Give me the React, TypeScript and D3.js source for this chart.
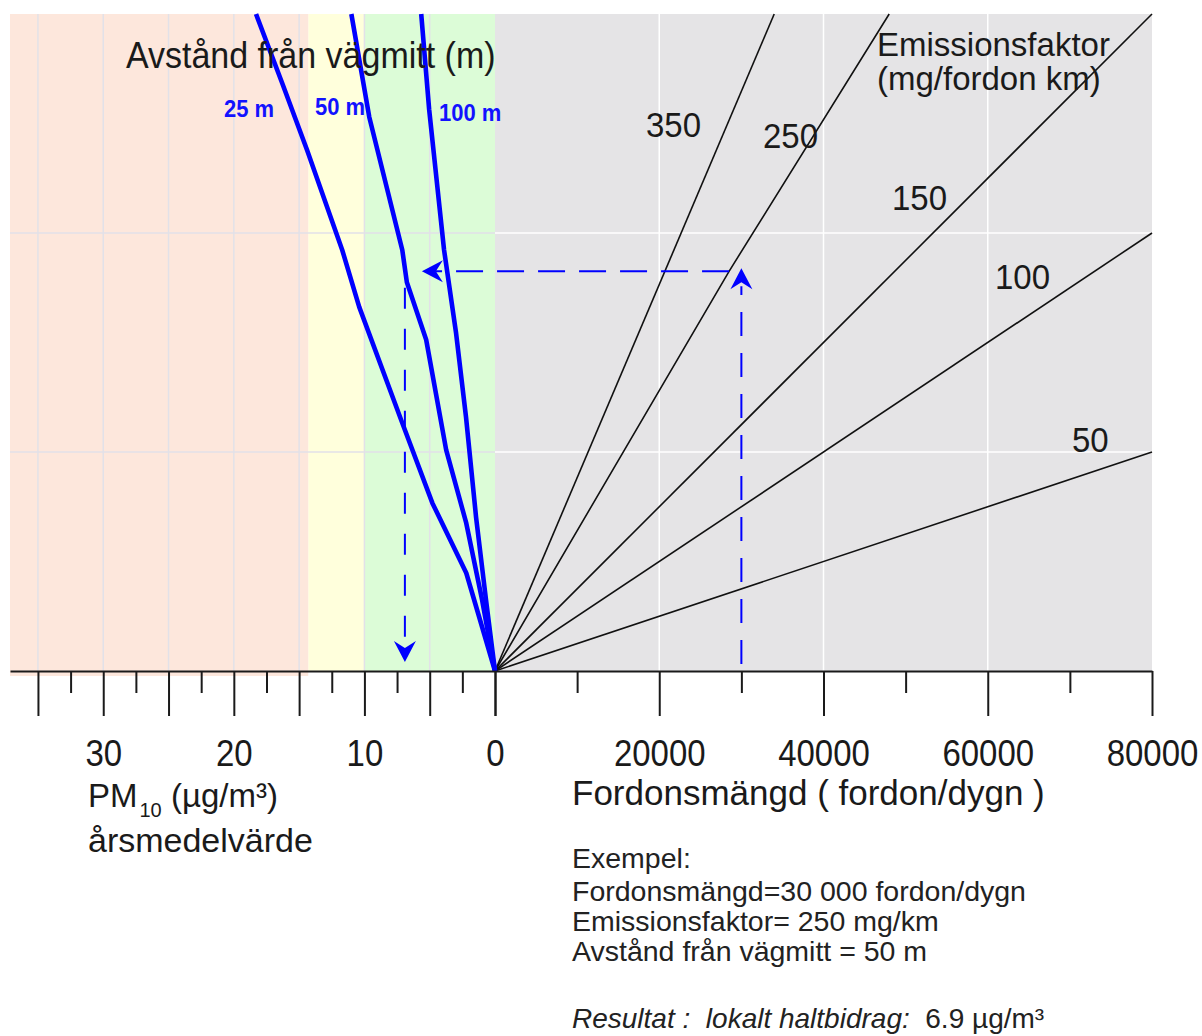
import React, { useEffect, useRef } from 'react';
import * as d3 from 'd3';

// left half: PM10 annual mean (µg/m3)
const pmMajorTicks = [0, 5, 10, 15, 20, 25, 30, 35];
const pmMinorTicks = [2.5, 7.5, 12.5, 17.5, 22.5, 27.5, 32.5];
const pmLabels = [0, 10, 20, 30];
const pmGrid = [5, 10, 15, 20, 25, 30, 35];

// right half: traffic flow (fordon/dygn)
const flowMajorTicks = [0, 20000, 40000, 60000, 80000];
const flowMinorTicks = [10000, 30000, 50000, 70000];
const flowGrid = [20000, 40000, 60000];

// shared vertical axis: emission per km and day (10^6 mg/km/dygn)
const emissionGrid = [4, 8];

// PM10 colour zones
const zoneLimits = [0, 10, 14.3];
const zoneColors = ['#dcfcd7', '#ffffdc', '#fde7dc'];

// emission factor lines (flow, emission)
const efLabels = ['350', '250', '150', '100', '50'];
const ef350: [number, number][] = [[0, 0], [34000, 12]];
const ef250: [number, number][] = [[0, 0], [28500, 7.3], [48000, 12]];
const ef150: [number, number][] = [[0, 0], [80000, 12]];
const ef100: [number, number][] = [[0, 0], [80000, 8]];
const ef50: [number, number][] = [[0, 0], [80000, 4]];

// distance lines (PM10, emission)
const distLabels = ['25 m', '50 m', '100 m'];
const dist25: [number, number][] = [[0, 0], [2.2, 1.79], [4.8, 3.07], [7.1, 4.53], [10.4, 6.65], [11.7, 7.69], [14.4, 9.52], [16.3, 10.74], [18.3, 12]];
const dist50: [number, number][] = [[0, 0], [0.99, 1.3], [2.2, 2.7], [3.74, 4.04], [5.27, 6.05], [6.75, 7.1], [7.1, 7.69], [9.63, 10.12], [11.0, 12]];
const dist100: [number, number][] = [[0, 0], [0.69, 1.3], [1.45, 2.81], [2.22, 4.64], [2.98, 6.17], [3.9, 7.69], [5.04, 10.25], [5.65, 12]];

// worked example
const exFlow = 30000;
const exFlowOnLine = 28500;
const exEmission = 7.3;
const exPM = 6.9;
const exampleLines = [
    'Exempel:',
    'Fordonsmängd=30 000 fordon/dygn',
    'Emissionsfaktor= 250 mg/km',
    'Avstånd från vägmitt = 50 m',
];

const FONT = '"Liberation Sans", Arial, Helvetica, sans-serif';

const App: React.FC = () => {
    const svgRef = useRef<SVGSVGElement>(null);

    useEffect(() => {
        if (!svgRef.current) return;
        const svg = d3.select(svgRef.current);
        svg.selectAll('*').remove();

        const top = 14, base = 671, left = 10, right = 1152, zero = 495;

        const xPM = d3.scaleLinear().domain([0, 37.14]).range([zero, left]);
        const xFlow = d3.scaleLinear().domain([0, 80000]).range([zero, right]);
        const y = d3.scaleLinear().domain([0, 12]).range([base, top]);

        // Backgrounds
        const zoneEnds = [...zoneLimits.slice(1), 37.14];
        zoneLimits.forEach((from, i) => {
            const to = zoneEnds[i];
            svg.append('rect')
                .attr('x', xPM(to))
                .attr('y', top)
                .attr('width', xPM(from) - xPM(to))
                .attr('height', base - top + (i === 2 ? 5 : 0))
                .attr('fill', zoneColors[i]);
        });

        svg.append('rect')
            .attr('x', zero)
            .attr('y', top)
            .attr('width', right - zero)
            .attr('height', base - top)
            .attr('fill', '#e5e4e6');

        // Grid
        svg.selectAll('.pmgrid')
            .data(pmGrid)
            .join('line')
            .attr('x1', d => xPM(d)).attr('x2', d => xPM(d))
            .attr('y1', top).attr('y2', base)
            .attr('stroke', '#e2e1e8')
            .attr('stroke-width', 1.5);

        svg.selectAll('.egridL')
            .data(emissionGrid)
            .join('line')
            .attr('x1', left).attr('x2', zero)
            .attr('y1', d => y(d)).attr('y2', d => y(d))
            .attr('stroke', '#e2e1e8')
            .attr('stroke-width', 1.5);

        svg.selectAll('.flowgrid')
            .data(flowGrid)
            .join('line')
            .attr('x1', d => xFlow(d)).attr('x2', d => xFlow(d))
            .attr('y1', top).attr('y2', base)
            .attr('stroke', '#ffffff')
            .attr('stroke-width', 1.5);

        svg.selectAll('.egridR')
            .data(emissionGrid)
            .join('line')
            .attr('x1', zero).attr('x2', right)
            .attr('y1', d => y(d)).attr('y2', d => y(d))
            .attr('stroke', '#ffffff')
            .attr('stroke-width', 1.5);

        // Emission factor lines
        const efLine = d3.line<[number, number]>()
            .x(d => xFlow(d[0]))
            .y(d => y(d[1]));

        [ef350, ef250, ef150, ef100, ef50].forEach(pts => {
            svg.append('path')
                .attr('d', efLine(pts))
                .attr('fill', 'none')
                .attr('stroke', '#111')
                .attr('stroke-width', 1.6);
        });

        // Distance lines
        const distLine = d3.line<[number, number]>()
            .x(d => xPM(d[0]))
            .y(d => y(d[1]));

        [dist25, dist50, dist100].forEach(pts => {
            svg.append('path')
                .attr('d', distLine(pts))
                .attr('fill', 'none')
                .attr('stroke', '#0000ff')
                .attr('stroke-width', 4.6)
                .attr('stroke-linejoin', 'round');
        });

        // Example path (dashed arrows)
        const arrow = (x: number, yy: number, angle: number) => {
            svg.append('path')
                .attr('d', 'M0,0 L-21,-11 L-14,0 L-21,11 Z')
                .attr('transform', `translate(${x},${yy}) rotate(${angle})`)
                .attr('fill', '#0000ff');
        };

        // up from the flow axis
        const upTip = y(exEmission) - 3;
        svg.append('line')
            .attr('x1', xFlow(exFlow)).attr('x2', xFlow(exFlow))
            .attr('y1', base - 7).attr('y2', upTip + 18)
            .attr('stroke', '#0000ff')
            .attr('stroke-width', 2)
            .attr('stroke-dasharray', '24 17');
        arrow(xFlow(exFlow), upTip, -90);

        // left along the emission level
        const leftTip = xPM(5.6);
        svg.append('line')
            .attr('x1', xFlow(exFlowOnLine)).attr('x2', leftTip + 14)
            .attr('y1', y(exEmission)).attr('y2', y(exEmission))
            .attr('stroke', '#0000ff')
            .attr('stroke-width', 2)
            .attr('stroke-dasharray', '27 14');
        arrow(leftTip, y(exEmission), 180);

        // down to the PM10 axis
        const downTip = base - 9;
        svg.append('line')
            .attr('x1', xPM(exPM)).attr('x2', xPM(exPM))
            .attr('y1', y(7.0)).attr('y2', downTip - 16)
            .attr('stroke', '#0000ff')
            .attr('stroke-width', 2)
            .attr('stroke-dasharray', '21 20');
        arrow(xPM(exPM), downTip, 90);

        // Axes
        const axisG = svg.append('g').attr('transform', `translate(0,${base})`);

        const styleAxis = (g: d3.Selection<SVGGElement, unknown, null, undefined>) => {
            g.attr('font-family', FONT).attr('font-size', 33).attr('color', '#1a1a1a');
            g.selectAll('.tick line').attr('stroke-width', 2);
            g.selectAll('.domain').attr('stroke-width', 2.2);
            g.selectAll('.tick text')
                .attr('y', null)
                .attr('dy', null)
                .attr('transform', 'translate(0,95) scale(1,1.12)');
        };

        axisG.append('g')
            .call(d3.axisBottom(xPM)
                .tickValues(pmMajorTicks)
                .tickSize(45)
                .tickSizeOuter(0)
                .tickFormat(d => (pmLabels.includes(+d) ? String(d) : '')))
            .call(styleAxis);

        axisG.append('g')
            .call(d3.axisBottom(xPM).tickValues(pmMinorTicks).tickSize(22).tickFormat(() => ''))
            .call(g => g.select('.domain').remove())
            .call(styleAxis);

        axisG.append('g')
            .call(d3.axisBottom(xFlow)
                .tickValues(flowMajorTicks)
                .tickSize(45)
                .tickSizeOuter(0)
                .tickFormat(d => (+d === 0 ? '' : d3.format('d')(+d))))
            .call(styleAxis);

        axisG.append('g')
            .call(d3.axisBottom(xFlow).tickValues(flowMinorTicks).tickSize(22).tickFormat(() => ''))
            .call(g => g.select('.domain').remove())
            .call(styleAxis);

        // Texts
        const addText = (x: number, yy: number, str: string, size: number, opts: any = {}) => {
            return svg.append('text')
                .attr('transform', `translate(${x},${yy}) scale(1,${opts.stretch ?? 1.06})`)
                .attr('font-family', FONT)
                .attr('font-size', size)
                .attr('font-weight', opts.weight ?? 'normal')
                .attr('font-style', opts.italic ? 'italic' : 'normal')
                .attr('fill', opts.fill ?? '#1a1a1a')
                .style('white-space', 'pre')
                .text(str);
        };

        addText(126, 68, 'Avstånd från vägmitt (m)', 34);

        const distLabelPos = [[224, 117], [315, 115], [439, 121]];
        distLabels.forEach((t, i) => {
            addText(distLabelPos[i][0], distLabelPos[i][1], t, 22, { weight: 'bold', fill: '#1212ff', stretch: 1.12 });
        });

        const efLabelPos = [[646, 137], [763, 148], [892, 210], [995, 289], [1072, 452]];
        efLabels.forEach((t, i) => {
            addText(efLabelPos[i][0], efLabelPos[i][1], t, 33);
        });

        addText(877, 56, 'Emissionsfaktor', 33, { stretch: 1 });
        addText(877, 90, '(mg/fordon km)', 33, { stretch: 1 });

        addText(572, 805, 'Fordonsmängd ( fordon/dygn )', 35, { stretch: 1 });

        const pm = addText(88, 807, 'PM', 33, { stretch: 1 });
        pm.append('tspan').attr('font-size', 20).attr('dx', 2).attr('dy', 10).text('10');
        pm.append('tspan').attr('dy', -10).text(' (µg/m³)');
        addText(88, 852, 'årsmedelvärde', 34, { stretch: 1 });

        exampleLines.forEach((t, i) => {
            addText(572, [868, 901, 931, 961][i], t, 28.5, { stretch: 1, fill: '#222' });
        });
        addText(572, 1028, 'Resultat :  lokalt haltbidrag:  ', 28, { stretch: 1, italic: true, fill: '#222' })
            .append('tspan').attr('font-style', 'normal').text('6.9 µg/m³');
    }, []);

    return (
        <svg
            ref={svgRef}
            width={1202}
            height={1036}
            style={{ position: 'absolute', left: 0, top: 0, background: '#fff' }}
        />
    );
};

export default App;
